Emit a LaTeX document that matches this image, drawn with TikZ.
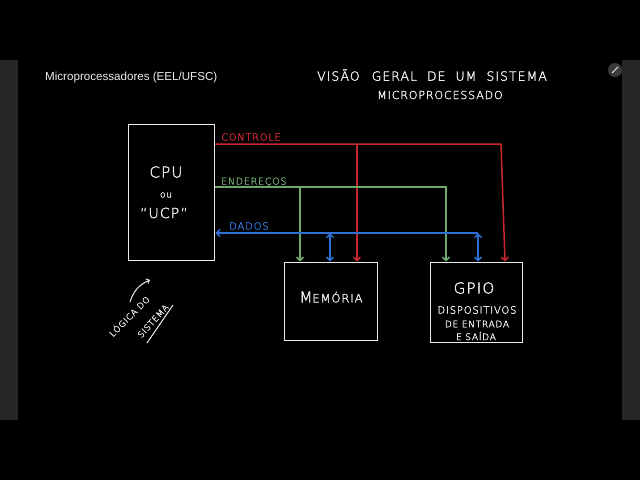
\documentclass[tikz,border=0pt]{standalone}
\usepackage{fontspec}
\setmainfont{Liberation Sans}
\IfFontExistsTF{DejaVu Sans ExtraLight}{\newfontfamily\hand[LetterSpace=8,FakeBold=2]{DejaVu Sans ExtraLight}}{\newfontfamily\hand[LetterSpace=8]{DejaVu Sans}}
\usetikzlibrary{arrows.meta}
\definecolor{ctl}{HTML}{C8282E}
\definecolor{adr}{HTML}{6FA86C}
\definecolor{dat}{HTML}{2F6FD6}
\definecolor{strip}{HTML}{262626}
\definecolor{ink}{HTML}{EDEDED}
\definecolor{icon}{HTML}{3A3A3A}
\tikzset{
  box/.style={draw=ink, line width=1.8pt, inner sep=0pt},
  hw/.style={text=ink, font=\hand\fontsize{#1}{#1}\selectfont, inner sep=0pt},
  wire/.style={line width=1.5pt},
  barb/.style={-{Straight Barb[length=3.5pt,width=7pt]}},
  dbarb/.style={{Straight Barb[length=3.5pt,width=7pt]}-{Straight Barb[length=3.5pt,width=7pt]}},
}
\begin{document}
\begin{tikzpicture}[x=1pt,y=-1pt]
\useasboundingbox (0,0) rectangle (640,480);
\fill[black] (0,0) rectangle (640,480);
\fill[strip] (0,60) rectangle (18,420);
\fill[strip] (622,60) rectangle (640,420);
% icon
\fill[icon] (615,70) circle (7);
\draw[ink!70, line width=1pt] (612,73) -- (618,67);

% title
\node[text=ink, font=\fontsize{11.6}{11.6}\selectfont, anchor=west, inner sep=0pt] (title) at (45,77) {Microprocessadores (EEL/UFSC)};
\node[hw=12.5] (h1) at (432,75) {VISÃO\hspace{12pt}GERAL\hspace{10pt}DE\hspace{10pt}UM\hspace{10pt}SISTEMA};
\node[hw=11] (h2) at (440,95) {MICROPROCESSADO};

% boxes
\node[box, minimum width=86pt, minimum height=136pt] (cpu) at (171.5,192.5) {};
\node[box, minimum width=93pt, minimum height=78pt] (mem) at (331,301.5) {};
\node[box, minimum width=92pt, minimum height=80pt] (gpio) at (476.5,302.5) {};

% box texts
\node[hw=15] (t1) at (166,172) {CPU};
\node[hw=9] (t2) at (166,195) {ou};
\node[hw=14] (t3) at (164,213) {“UCP”};
\node[hw=15] (t4) at (331,297) {M\fontsize{11.5}{11.5}\selectfont EMÓRIA};
\node[hw=15] (t5) at (474,288) {GPIO};
\node[hw=10] (t6) at (477,310) {DISPOSITIVOS};
\node[hw=9] (t7) at (477,324) {DE ENTRADA};
\node[hw=9] (t8) at (476,336) {E SAÍDA};

% bus labels
\node[hw=9.8, text=ctl, anchor=west] (l1) at (221,137) {CONTROLE};
\node[hw=9.5, text=adr, anchor=west] (l2) at (221,182) {ENDEREÇOS};
\node[hw=10, text=dat, anchor=west] (l3) at (229,226) {DADOS};

% junctions
\coordinate (cj) at (357,144);
\coordinate (cc) at (501,144);
\coordinate (aj) at (300,187);
\coordinate (ac) at (446,187);
\coordinate (dj) at (330,233);
\coordinate (dc) at (478,233);

% control bus
\draw[ctl, wire, barb] (cpu.east |- cj) -- (cc) -- (gpio.north -| 505,0);
\draw[ctl, wire, barb] (cj) -- (mem.north -| cj);
% address bus
\draw[adr, wire, barb] (cpu.east |- aj) -- (ac) -- (gpio.north -| ac);
\draw[adr, wire, barb] (aj) -- (mem.north -| aj);
% data bus
\draw[dat, wire, barb] (dc) -- (cpu.east |- dc);
\draw[dat, wire, dbarb] (dj) -- (mem.north -| dj);
\draw[dat, wire, dbarb] (dc) -- (gpio.north -| dc);

% side note
\node[hw=8.5, rotate=45] (n1) at (129,316) {LÓGICA DO};
\node[hw=8.5, rotate=48] (n2) at (153,321) {SISTEMA};
\coordinate (u1) at (147,343);
\coordinate (u2) at (173,305);
\draw[ink, line width=1pt] (u1) -- (u2);
\coordinate (a1) at (130,302);
\coordinate (a2) at (150,280);
\draw[ink, line width=1pt, -{Straight Barb[length=2.5pt,width=5pt]}] (a1) to[bend left=25] (a2);
\end{tikzpicture}
\end{document}
